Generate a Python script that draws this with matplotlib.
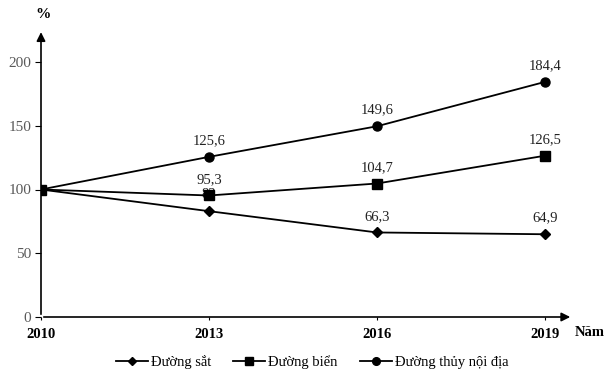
import numpy as np
import matplotlib.pyplot as plt

plt.rcParams['font.family'] = ['Liberation Serif', 'DejaVu Serif']

years = ["2010", "2013", "2016", "2019"]
duong_sat = [100, 83, 66.3, 64.9]
duong_bien = [100, 95.3, 104.7, 126.5]
duong_thuy = [100, 125.6, 149.6, 184.4]
series_names = ["Đường sắt", "Đường biển", "Đường thủy nội địa"]

fig = plt.figure(figsize=(6.12, 3.81), dpi=100)
ax = fig.add_axes([41 / 612, 64 / 381, 532 / 612, 282 / 381])

x = np.arange(len(years))
ax.plot(x, duong_sat, color="black", lw=1.3, marker="D", ms=5, label=series_names[0], zorder=2)
ax.plot(x, duong_bien, color="black", lw=1.3, marker="s", ms=6.5, label=series_names[1], zorder=4)
ax.plot(x, duong_thuy, color="black", lw=1.3, marker="o", ms=6.5, label=series_names[2], zorder=2)

# data labels (2010 has none)
for vals in (duong_sat, duong_bien, duong_thuy):
    for i in range(1, len(vals)):
        txt = f"{vals[i]:g}".replace(".", ",")
        ax.annotate(txt, (x[i], vals[i]), xytext=(0, 7), textcoords="offset points",
                    ha="center", va="bottom", fontsize=10.5, color="#222222", zorder=3)

ax.set_xlim(0, 3 * 532 / 504)
ax.set_ylim(0, 200 * 282 / 255)
for s in ax.spines.values():
    s.set_visible(False)

# axes with arrows
ax.annotate("", xy=(1, 0), xytext=(0, 0), xycoords="axes fraction",
            arrowprops=dict(arrowstyle="-|>", color="black", lw=1.2, mutation_scale=13))
ax.annotate("", xy=(0, 1.02), xytext=(0, 0), xycoords="axes fraction",
            arrowprops=dict(arrowstyle="-|>", color="black", lw=1.2, mutation_scale=13))

ax.set_yticks([0, 50, 100, 150, 200])
ax.tick_params(axis="y", direction="out", length=4, labelsize=11, labelcolor="#595959", pad=3)
ax.set_xticks(x)
ax.set_xticklabels(years, fontweight="bold", fontsize=10.5)
ax.tick_params(axis="x", direction="out", length=2, pad=6)

fig.text(43 / 612, 1 - 14 / 381, "%", fontweight="bold", fontsize=11, ha="center", va="center")
fig.text(590 / 612, 1 - 333 / 381, "Năm", fontweight="bold", fontsize=10.5, ha="center", va="center")

fig.legend(loc="center", bbox_to_anchor=(0.51, 1 - 362 / 381), ncol=3, frameon=False,
           fontsize=10.5, handlelength=2.2, handletextpad=0.2, columnspacing=1.5, markerscale=0.85)

fig.savefig("out.png", dpi=100)
